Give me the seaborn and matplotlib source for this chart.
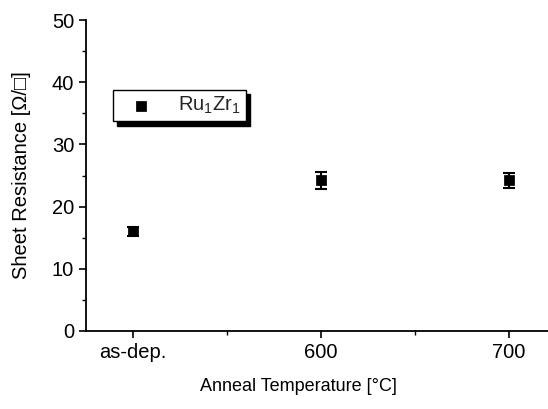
import matplotlib
matplotlib.use("Agg")
import matplotlib.pyplot as plt
import seaborn as sns
import pandas as pd

categories = ["as-dep.", "600", "700"]
resistance = [16.0, 24.2, 24.2]
errors = [0.8, 1.3, 1.2]

sns.set_style("ticks")
plt.rcParams['font.family'] = ['Liberation Sans', 'DejaVu Sans']
plt.rcParams['mathtext.fontset'] = 'custom'
plt.rcParams['mathtext.rm'] = 'Liberation Sans'

df = pd.DataFrame({"x": range(len(categories)), "y": resistance, "err": errors})

fig = plt.figure(figsize=(5.48, 4.09), dpi=100)
ax = fig.add_axes([86/548, 1-331/409, (548-86)/548, (331-20)/409])

ax.errorbar(df["x"], df["y"], yerr=df["err"], fmt="none", ecolor="black",
            elinewidth=1.5, capsize=4.5, capthick=1.5, zorder=2)
sns.scatterplot(data=df, x="x", y="y", marker="s", color="black", s=45,
                edgecolor="black", ax=ax, label=r"Ru$_1$Zr$_1$", zorder=3)

ax.set_xlim(-0.25, 2.21)
ax.set_ylim(0, 50)
ax.set_xticks(range(len(categories)))
ax.set_xticklabels(categories)
ax.set_xticks([0.5, 1.5], minor=True)
ax.set_yticks([0, 10, 20, 30, 40, 50])
ax.set_yticks([5, 15, 25, 35, 45], minor=True)
ax.tick_params(axis="both", which="major", labelsize=14.5, length=5, width=1.2, color="black", labelcolor="black")
ax.tick_params(axis="both", which="minor", length=3, width=1.0, color="black")
for s in ["left", "bottom"]:
    ax.spines[s].set_linewidth(1.3)
    ax.spines[s].set_color("black")
sns.despine(ax=ax)

ax.set_xlabel("Anneal Temperature [°C]", fontsize=13, color="black")
ax.xaxis.set_label_coords(0.459, -0.15)
ax.set_ylabel("Sheet Resistance [Ω/□]", fontsize=14.5, color="black")
ax.yaxis.set_label_coords(-0.118, 0.5)

leg = ax.legend(loc="upper left", bbox_to_anchor=(0.058, 0.775), fontsize=14.5,
                frameon=True, fancybox=False, shadow={'color': 'black', 'alpha': 1.0, 'ox': 3, 'oy': -3},
                edgecolor="black", framealpha=1, borderpad=0.25, handletextpad=0.7,
                handlelength=2.3, borderaxespad=0, markerscale=1.0)
leg.get_frame().set_linewidth(1.0)

fig.savefig("out.png", dpi=100)
